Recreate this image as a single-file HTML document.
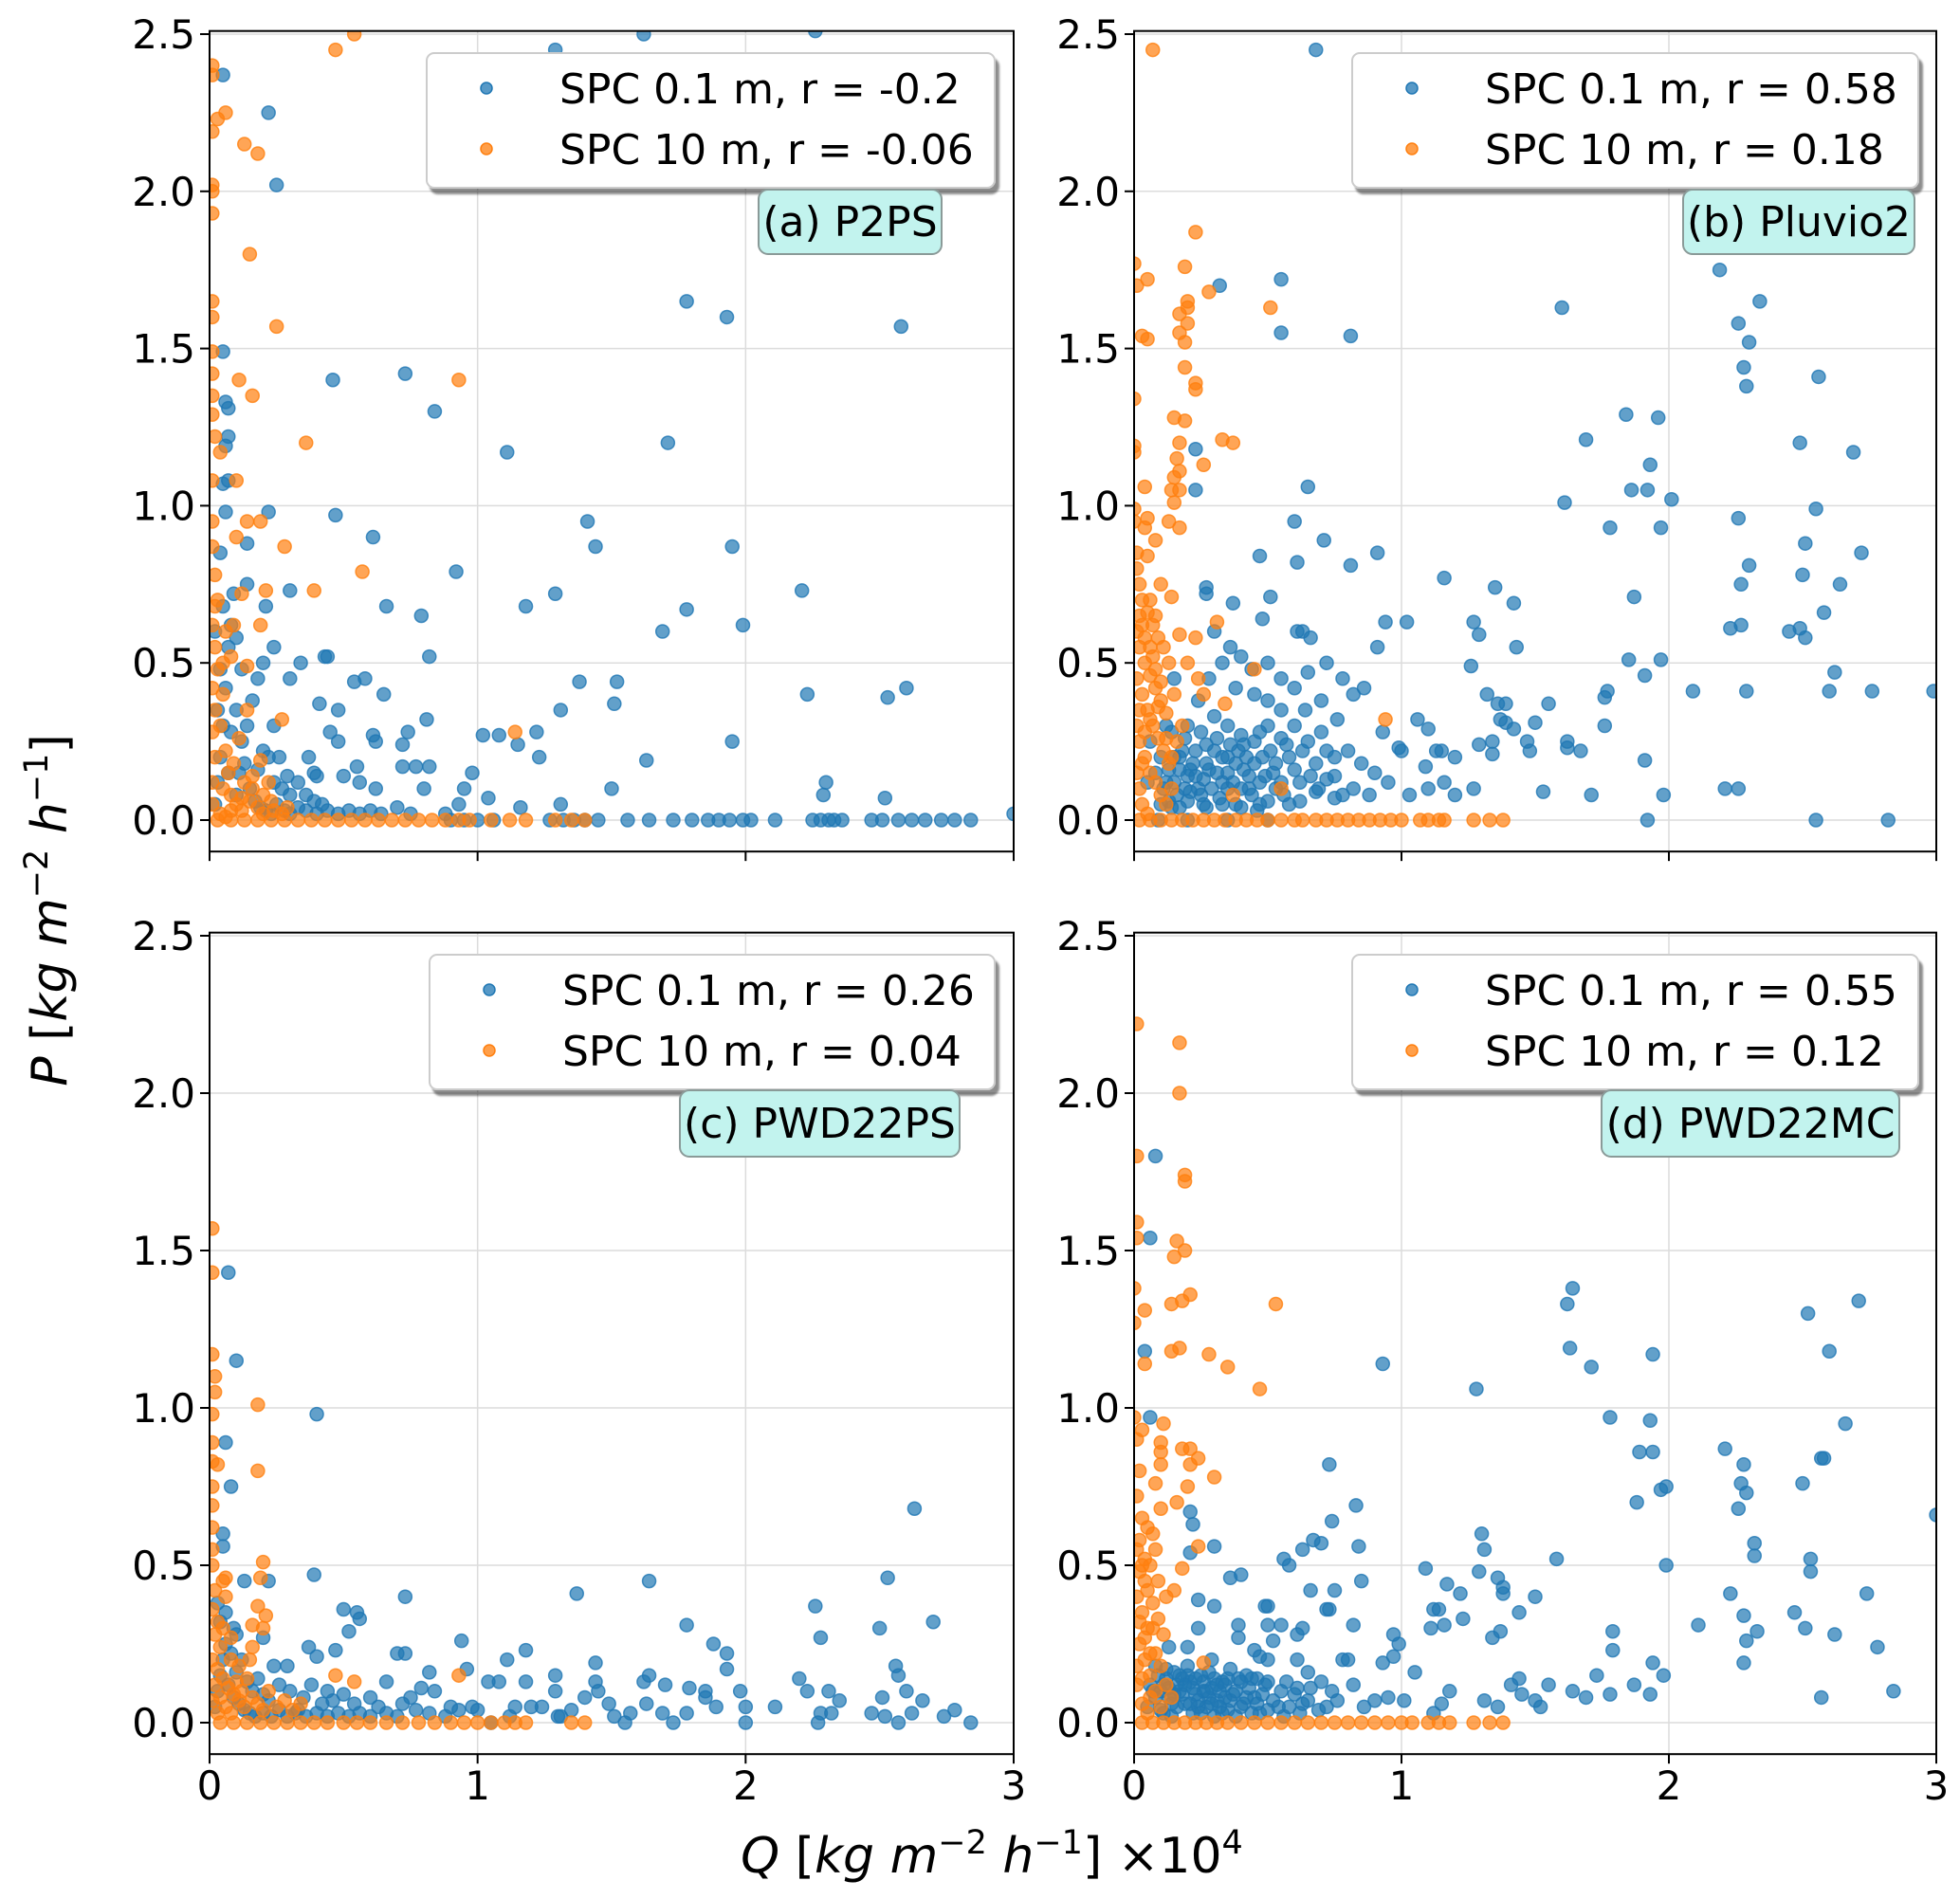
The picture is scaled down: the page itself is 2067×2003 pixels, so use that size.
<!DOCTYPE html>
<html><head><meta charset="utf-8">
<style>
html,body{margin:0;padding:0;background:#fff;}
svg{display:block;font-family:"DejaVu Sans","Liberation Sans",sans-serif;}
</style></head>
<body>
<svg id="fig" width="2067" height="2003" viewBox="0 0 2067 2003" xmlns="http://www.w3.org/2000/svg">
<defs>
<filter id="shadow" x="-5%" y="-5%" width="115%" height="130%"><feOffset dx="4" dy="6" in="SourceAlpha"/><feGaussianBlur stdDeviation="1"/><feComponentTransfer><feFuncA type="linear" slope="0.45"/></feComponentTransfer><feMerge><feMergeNode/><feMergeNode in="SourceGraphic"/></feMerge></filter>
</defs>
<g id="panels"></g>
<text x="0" y="0" transform="translate(70,960) rotate(-90)" text-anchor="middle" font-size="52" fill="#000"><tspan font-style="italic">P</tspan> [<tspan font-style="italic">kg m</tspan><tspan font-size="35" dy="-20">−2</tspan><tspan dy="20" font-style="italic"> h</tspan><tspan font-size="35" dy="-20">−1</tspan><tspan dy="20">]</tspan></text>
<text x="1046" y="1975" text-anchor="middle" font-size="52" fill="#000"><tspan font-style="italic">Q</tspan> [<tspan font-style="italic">kg m</tspan><tspan font-size="35" dy="-20">−2</tspan><tspan dy="20" font-style="italic"> h</tspan><tspan font-size="35" dy="-20">−1</tspan><tspan dy="20">] ×10</tspan><tspan font-size="35" dy="-20">4</tspan></text>
</svg>
<script>
// ---------- data (Q in 1e4 units, P) ----------
const xTicks = [0, 1, 2, 3];
const yTicks = [0.0, 0.5, 1.0, 1.5, 2.0, 2.5];
const yTickLabels = ["0.0", "0.5", "1.0", "1.5", "2.0", "2.5"];
const panelTitles = ["(a) P2PS", "(b) Pluvio2", "(c) PWD22PS", "(d) PWD22MC"];
const legendBlue = ["SPC 0.1 m, r = -0.2", "SPC 0.1 m, r = 0.58", "SPC 0.1 m, r = 0.26", "SPC 0.1 m, r = 0.55"];
const legendOrange = ["SPC 10 m, r = -0.06", "SPC 10 m, r = 0.18", "SPC 10 m, r = 0.04", "SPC 10 m, r = 0.12"];

const aBlue = [[1.29,2.45],[1.62,2.5],[2.26,2.51],[0.05,2.37],[0.22,2.25],[0.25,2.02],[1.78,1.65],[1.93,1.6],[2.58,1.57],[0.05,1.49],[0.46,1.4],[0.73,1.42],[0.84,1.3],[0.06,1.33],[0.07,1.31],[0.07,1.22],[0.06,1.19],[1.11,1.17],[1.71,1.2],[0.05,1.07],[0.07,1.08],[0.22,0.98],[0.47,0.97],[0.06,0.98],[1.41,0.95],[1.44,0.87],[1.95,0.87],[0.61,0.9],[0.14,0.88],[0.04,0.85],[0.92,0.79],[0.30,0.73],[2.21,0.73],[1.29,0.72],[0.14,0.75],[0.21,0.68],[0.66,0.68],[1.18,0.68],[0.79,0.65],[1.78,0.67],[1.69,0.6],[1.99,0.62],[0.24,0.55],[0.34,0.5],[0.43,0.52],[0.44,0.52],[0.82,0.52],[0.30,0.45],[0.54,0.44],[0.58,0.45],[0.65,0.4],[1.38,0.44],[1.52,0.44],[1.51,0.37],[1.31,0.35],[2.23,0.4],[2.53,0.39],[2.60,0.42],[0.41,0.37],[0.48,0.35],[0.81,0.32],[0.45,0.28],[0.48,0.25],[0.61,0.27],[0.62,0.25],[0.74,0.28],[0.72,0.24],[1.02,0.27],[1.08,0.27],[1.15,0.24],[1.22,0.28],[1.23,0.2],[1.63,0.19],[1.95,0.25],[0.37,0.2],[0.39,0.15],[0.40,0.14],[0.50,0.14],[0.55,0.17],[0.56,0.12],[0.62,0.1],[0.72,0.17],[0.77,0.17],[0.82,0.17],[0.80,0.1],[0.98,0.15],[0.95,0.1],[1.04,0.07],[1.50,0.1],[2.30,0.12],[2.29,0.08],[2.52,0.07],[1.31,0.05],[1.16,0.04],[0.93,0.05],[0.70,0.04],[0.75,0.02],[0.88,0.02],
[0.02,0.05],[0.03,0.12],[0.04,0.2],[0.05,0.3],[0.06,0.42],[0.07,0.55],[0.08,0.62],[0.05,0.68],[0.09,0.72],[0.1,0.35],[0.12,0.25],[0.13,0.18],[0.15,0.1],[0.17,0.06],[0.19,0.04],[0.21,0.03],[0.23,0.02],[0.25,0.05],[0.28,0.03],[0.3,0.02],[0.33,0.04],[0.36,0.03],[0.4,0.02],[0.44,0.03],[0.48,0.02],[0.52,0.03],[0.56,0.02],[0.6,0.03],[0.64,0.02],[0.1,0.08],[0.11,0.15],[0.14,0.3],[0.16,0.38],[0.18,0.45],[0.2,0.5],[0.22,0.2],[0.24,0.12],[0.27,0.1],[0.3,0.08],[0.03,0.35],[0.04,0.48],[0.02,0.6],[0.1,0.58],[0.12,0.48],[0.08,0.28],[0.07,0.15],[0.26,0.2],[0.24,0.3],[0.29,0.14],[0.33,0.12],[0.36,0.08],[0.39,0.06],[0.42,0.05],[0.18,0.16],[0.2,0.22],
[1.06,0],[1.36,0],[1.45,0],[1.56,0],[1.64,0],[1.73,0],[1.8,0],[1.86,0],[1.9,0],[1.94,0],[1.99,0],[2.02,0],[2.11,0],[2.25,0],[2.28,0],[2.31,0],[2.33,0],[2.36,0],[2.47,0],[2.51,0],[2.57,0],[2.62,0],[2.67,0],[2.73,0],[2.78,0],[2.84,0],[3.0,0.02],[0.95,0],[1.0,0],[0.9,0],[1.27,0],[1.32,0],[1.4,0]];
const aOrange = [[0.47,2.45],[0.54,2.5],[0.01,2.4],[0.01,2.37],[0.06,2.25],[0.03,2.23],[0.01,2.19],[0.13,2.15],[0.18,2.12],[0.01,2.02],[0.01,2.0],[0.01,1.93],[0.15,1.8],[0.01,1.65],[0.01,1.6],[0.25,1.57],[0.01,1.49],[0.01,1.42],[0.11,1.4],[0.93,1.4],[0.16,1.35],[0.01,1.35],[0.01,1.29],[0.02,1.22],[0.36,1.2],[0.04,1.17],[0.01,1.08],[0.1,1.08],[0.01,0.95],[0.14,0.95],[0.19,0.95],[0.1,0.9],[0.28,0.87],[0.01,0.87],[0.57,0.79],[0.21,0.73],[0.39,0.73],[0.12,0.72],[0.02,0.78],[0.02,0.68],[0.09,0.62],[0.19,0.62],[0.08,0.52],[0.14,0.49],[0.14,0.35],[0.27,0.32],[1.14,0.28],[0.19,0.19],[0.16,0.1],[0.22,0.12],
[0.01,0.05],[0.01,0.12],[0.02,0.2],[0.01,0.28],[0.02,0.35],[0.01,0.42],[0.03,0.48],[0.02,0.55],[0.01,0.62],[0.03,0.7],[0.04,0.3],[0.05,0.4],[0.06,0.22],[0.07,0.15],[0.08,0.08],[0.1,0.05],[0.12,0.03],[0.05,0.1],[0.09,0.18],[0.11,0.26],[0.13,0.12],[0.15,0.06],[0.18,0.04],[0.2,0.02],[0.24,0.03],[0.27,0.02],[0.04,0.02],[0.06,0.01],[0.08,0.03],[0.12,0.07],[0.16,0.14],[0.2,0.08],[0.23,0.06],[0.29,0.04],[0.05,0.5],[0.06,0.6],
[0.03,0],[0.08,0],[0.13,0],[0.18,0],[0.23,0],[0.28,0],[0.33,0],[0.38,0],[0.43,0],[0.48,0],[0.53,0],[0.58,0],[0.63,0],[0.68,0],[0.73,0],[0.78,0],[0.83,0],[0.88,0],[0.93,0],[0.97,0],[1.05,0],[1.12,0],[1.18,0],[1.29,0],[1.35,0],[1.4,0]];

const bBlue = [[0.68,2.45],[2.19,1.75],[2.34,1.65],[1.6,1.63],[2.26,1.58],[2.3,1.52],[2.28,1.44],[2.29,1.38],[2.56,1.41],[0.32,1.7],[0.55,1.72],[0.55,1.55],[0.81,1.54],[1.84,1.29],[1.96,1.28],[1.69,1.21],[2.49,1.2],[2.69,1.17],[1.93,1.13],[1.86,1.05],[1.92,1.05],[2.01,1.02],[1.61,1.01],[2.55,0.99],[0.23,1.18],[0.23,1.05],[0.65,1.06],[2.26,0.96],[1.78,0.93],[1.97,0.93],[0.6,0.95],[0.71,0.89],[2.51,0.88],[2.72,0.85],[0.47,0.84],[0.61,0.82],[0.81,0.81],[0.91,0.85],[2.3,0.81],[2.5,0.78],[2.27,0.75],[2.64,0.75],[1.16,0.77],[1.35,0.74],[1.42,0.69],[1.87,0.71],[2.58,0.66],[0.27,0.74],[0.27,0.72],[0.37,0.69],[0.51,0.71],[0.48,0.64],[0.94,0.63],[1.02,0.63],[1.27,0.63],[1.29,0.59],[1.43,0.55],[2.23,0.61],[2.27,0.62],[2.45,0.6],[2.49,0.61],[2.51,0.58],[0.61,0.6],[0.63,0.6],[0.66,0.58],[0.91,0.55],[1.85,0.51],[1.97,0.51],[1.26,0.49],[2.62,0.47],[1.91,0.46],[2.09,0.41],[2.29,0.41],[2.6,0.41],[2.76,0.41],[2.99,0.41],[1.77,0.41],[1.76,0.39],[1.32,0.4],[1.36,0.37],[1.39,0.37],[1.55,0.37],[1.37,0.32],[1.39,0.31],[1.42,0.29],[1.5,0.31],[1.76,0.3],[1.06,0.32],[1.1,0.29],[0.93,0.28],[0.99,0.23],[1.0,0.22],[1.13,0.22],[1.15,0.22],[1.2,0.2],[1.29,0.24],[1.34,0.25],[1.34,0.21],[1.47,0.25],[1.48,0.22],[1.62,0.25],[1.62,0.23],[1.67,0.22],[1.91,0.19],[1.09,0.17],[1.16,0.12],[1.1,0.1],[1.03,0.08],[1.2,0.08],[1.27,0.1],[1.53,0.09],[1.71,0.08],[1.98,0.08],[2.21,0.1],[2.26,0.1],[1.92,0],[2.55,0],[2.82,0],
[0.3,0.6],[0.33,0.5],[0.36,0.55],[0.4,0.52],[0.44,0.48],[0.5,0.5],[0.55,0.45],[0.6,0.42],[0.65,0.47],[0.72,0.5],[0.78,0.45],[0.82,0.4],[0.86,0.42],[0.45,0.4],[0.5,0.38],[0.38,0.42],[0.28,0.45],[0.24,0.38],[0.2,0.3],[0.18,0.22],[0.25,0.28],[0.3,0.33],[0.35,0.3],[0.4,0.27],[0.45,0.25],[0.5,0.3],[0.55,0.26],[0.6,0.3],[0.65,0.25],[0.7,0.28],[0.75,0.2],[0.8,0.22],[0.85,0.18],[0.9,0.15],[0.95,0.12],[0.72,0.13],[0.68,0.18],[0.62,0.12],[0.58,0.2],[0.52,0.15],[0.48,0.2],[0.43,0.14],[0.38,0.18],[0.33,0.12],[0.28,0.16],[0.24,0.1],[0.2,0.14],[0.16,0.08],[0.12,0.12],[0.1,0.2],[0.14,0.28],[0.1,0.05],[0.14,0.04],[0.2,0.06],[0.26,0.05],[0.32,0.07],[0.38,0.05],[0.44,0.08],[0.5,0.06],[0.56,0.08],[0.62,0.06],[0.68,0.09],[0.75,0.07],[0.82,0.1],[0.88,0.08],[0.3,0.22],[0.36,0.24],[0.42,0.2],[0.47,0.12],[0.53,0.1],[0.58,0.05],[0.22,0.18],[0.26,0.13],[0.17,0.16],[0.12,0.3],[0.15,0.45],[0.06,0.25],[0.05,0.12],[0.08,0.15],[0.35,0.15],[0.4,0.1],[0.64,0.35],[0.7,0.38],[0.76,0.32],[0.55,0.35],[0.09,0.0],[0.2,0.0],[0.35,0.0],[0.5,0.0]];
const bBlueExtra = [[0.11,0.1],[0.13,0.16],[0.15,0.12],[0.17,0.2],[0.19,0.1],[0.21,0.16],[0.23,0.22],[0.25,0.08],[0.27,0.18],[0.29,0.1],[0.31,0.15],[0.33,0.2],[0.35,0.1],[0.37,0.12],[0.39,0.22],[0.41,0.16],[0.43,0.1],[0.45,0.18],[0.47,0.05],[0.49,0.14],[0.51,0.22],[0.53,0.18],[0.55,0.12],[0.57,0.24],[0.6,0.16],[0.63,0.22],[0.66,0.14],[0.69,0.1],[0.72,0.22],[0.75,0.14],[0.78,0.08],[0.15,0.2],[0.19,0.26],[0.23,0.14],[0.27,0.24],[0.31,0.26],[0.35,0.2],[0.41,0.24],[0.47,0.28],[0.13,0.06],[0.17,0.04],[0.21,0.09],[0.27,0.04],[0.33,0.05],[0.4,0.04],[0.46,0.03]];
const bOrange = [[0.07,2.45],[0.23,1.87],[0.0,1.77],[0.01,1.7],[0.05,1.72],[0.19,1.76],[0.2,1.65],[0.2,1.63],[0.28,1.68],[0.51,1.63],[0.17,1.61],[0.2,1.58],[0.03,1.54],[0.05,1.53],[0.17,1.55],[0.19,1.52],[0.19,1.44],[0.23,1.39],[0.23,1.37],[0.0,1.34],[0.15,1.28],[0.19,1.27],[0.33,1.21],[0.37,1.2],[0.17,1.2],[0.16,1.15],[0.17,1.11],[0.26,1.13],[0.0,1.19],[0.0,1.17],[0.15,1.09],[0.14,1.05],[0.17,1.05],[0.15,1.01],[0.04,1.06],[0.0,0.99],[0.0,0.95],[0.05,0.96],[0.13,0.95],[0.17,0.93],[0.04,0.93],[0.08,0.89],[0.01,0.85],[0.05,0.84],[0.45,0.48],[0.34,0.37],[0.94,0.32],[0.55,0.1],[0.37,0.08],[0.31,0.63],[0.23,0.58],[0.17,0.59],[0.14,0.71],[0.1,0.75],[0.2,0.5],[0.24,0.45],[0.26,0.4],
[0.01,0.8],[0.02,0.75],[0.03,0.7],[0.05,0.66],[0.07,0.62],[0.09,0.58],[0.01,0.6],[0.02,0.55],[0.04,0.5],[0.06,0.46],[0.08,0.42],[0.1,0.38],[0.12,0.34],[0.01,0.45],[0.03,0.4],[0.05,0.35],[0.07,0.3],[0.09,0.26],[0.11,0.22],[0.13,0.18],[0.01,0.3],[0.02,0.25],[0.04,0.2],[0.06,0.15],[0.08,0.12],[0.1,0.08],[0.12,0.05],[0.01,0.15],[0.02,0.1],[0.03,0.05],[0.05,0.02],[0.14,0.1],[0.16,0.25],[0.18,0.3],[0.15,0.4],[0.13,0.5],[0.11,0.55],[0.06,0.7],[0.08,0.65],[0.03,0.62],[0.02,0.35],[0.04,0.28],[0.07,0.52],[0.02,0.65],[0.04,0.58],[0.06,0.55],[0.08,0.48],[0.1,0.44],[0.03,0.18],[0.06,0.32],[0.09,0.36],[0.12,0.26],[0.14,0.2],
[0.02,0],[0.06,0],[0.1,0],[0.14,0],[0.18,0],[0.22,0],[0.26,0],[0.3,0],[0.34,0],[0.38,0],[0.42,0],[0.46,0],[0.5,0],[0.55,0],[0.6,0],[0.63,0],[0.68,0],[0.72,0],[0.76,0],[0.8,0],[0.84,0],[0.88,0],[0.92,0],[0.96,0],[1.0,0],[1.07,0],[1.1,0],[1.14,0],[1.16,0],[1.27,0],[1.33,0],[1.38,0]];

const cBlue = [[0.07,1.43],[0.1,1.15],[0.4,0.98],[0.06,0.89],[0.08,0.75],[0.05,0.6],[0.05,0.56],[2.63,0.68],[0.39,0.47],[0.13,0.45],[0.22,0.45],[0.73,0.4],[1.37,0.41],[1.64,0.45],[2.53,0.46],[2.26,0.37],[2.7,0.32],[1.78,0.31],[2.5,0.3],[2.28,0.27],[0.5,0.36],[0.55,0.35],[0.56,0.33],[0.52,0.29],[0.2,0.27],[0.09,0.3],[0.94,0.26],[1.88,0.25],[1.93,0.22],[1.93,0.17],[2.56,0.18],[2.57,0.15],[1.18,0.23],[1.11,0.2],[1.44,0.19],[0.37,0.24],[0.4,0.21],[0.47,0.23],[0.7,0.22],[0.73,0.22],[0.96,0.17],[0.66,0.13],[0.82,0.16],[1.04,0.13],[1.08,0.13],[1.18,0.13],[1.29,0.15],[1.29,0.1],[1.44,0.13],[1.45,0.1],[1.62,0.13],[1.64,0.15],[1.7,0.12],[1.79,0.11],[1.85,0.1],[1.85,0.08],[1.98,0.1],[2.2,0.14],[2.23,0.1],[2.31,0.1],[2.35,0.07],[2.51,0.08],[2.6,0.1],[2.66,0.07],[2.78,0.04],[2.84,0.0],[2.74,0.02],[2.62,0.03],[2.57,0.0],[2.52,0.02],[2.47,0.03],[2.27,0.0],[2.28,0.03],[2.32,0.03],[2.11,0.05],[2.0,0.05],[2.0,0.0],[1.89,0.05],[1.78,0.03],[1.73,0.0],[1.69,0.03],[1.63,0.06],[1.57,0.03],[1.55,0.0],[1.51,0.02],[1.49,0.06],[1.4,0.08],[1.35,0.04],[1.3,0.02],[1.31,0.02],[1.24,0.05],[1.2,0.05],[1.14,0.05],[1.12,0.02],[1.05,0.0],[1.0,0.04],[0.98,0.05],[0.9,0.05],[0.84,0.1],[0.79,0.11],[0.75,0.08],[0.72,0.06],[0.63,0.05],[0.6,0.08],[0.54,0.06],[0.46,0.07],[0.42,0.06],[0.33,0.04],[0.29,0.18],[0.24,0.18],
[0.02,0.05],[0.03,0.1],[0.04,0.15],[0.05,0.2],[0.06,0.25],[0.04,0.32],[0.03,0.38],[0.07,0.12],[0.09,0.08],[0.11,0.06],[0.13,0.04],[0.15,0.03],[0.17,0.02],[0.2,0.03],[0.23,0.02],[0.26,0.04],[0.29,0.02],[0.32,0.03],[0.36,0.02],[0.4,0.03],[0.44,0.02],[0.48,0.03],[0.52,0.02],[0.56,0.03],[0.6,0.02],[0.66,0.03],[0.7,0.02],[0.77,0.04],[0.82,0.03],[0.88,0.02],[0.93,0.04],[0.1,0.16],[0.12,0.2],[0.14,0.13],[0.16,0.1],[0.18,0.14],[0.2,0.09],[0.22,0.07],[0.08,0.22],[0.1,0.28],[0.06,0.35],[0.26,0.12],[0.3,0.1],[0.35,0.08],[0.38,0.12],[0.44,0.1],[0.5,0.09]];
const cOrange = [[0.01,1.57],[0.01,1.43],[0.01,1.17],[0.02,1.1],[0.02,1.05],[0.01,0.98],[0.18,1.01],[0.01,0.89],[0.01,0.83],[0.03,0.82],[0.18,0.8],[0.01,0.75],[0.01,0.69],[0.01,0.62],[0.01,0.55],[0.2,0.51],[0.06,0.46],[0.05,0.45],[0.19,0.46],[0.06,0.4],[0.18,0.37],[0.21,0.34],[0.16,0.31],[0.2,0.3],[0.16,0.24],[0.08,0.27],[0.47,0.15],[0.54,0.13],[0.93,0.15],[1.35,0],[1.4,0],
[0.01,0.5],[0.02,0.42],[0.01,0.36],[0.03,0.32],[0.02,0.28],[0.04,0.24],[0.01,0.2],[0.03,0.17],[0.05,0.14],[0.07,0.11],[0.09,0.09],[0.11,0.07],[0.13,0.05],[0.02,0.12],[0.04,0.08],[0.06,0.05],[0.08,0.03],[0.1,0.13],[0.12,0.1],[0.14,0.14],[0.16,0.08],[0.18,0.06],[0.2,0.04],[0.22,0.1],[0.25,0.05],[0.28,0.07],[0.31,0.04],[0.34,0.06],[0.15,0.2],[0.11,0.18],[0.08,0.2],[0.05,0.3],[0.03,0.03],[0.01,0.07],
[0.04,0],[0.09,0],[0.14,0],[0.19,0],[0.24,0],[0.29,0],[0.34,0],[0.39,0],[0.44,0],[0.5,0],[0.55,0],[0.6,0],[0.66,0],[0.72,0],[0.78,0],[0.84,0],[0.9,0],[0.95,0],[1.0,0],[1.05,0],[1.1,0],[1.14,0],[1.18,0]];

const dBlue = [[0.08,1.8],[0.06,1.54],[0.04,1.18],[0.06,0.97],[0.93,1.14],[1.28,1.06],[1.64,1.38],[1.62,1.33],[1.63,1.19],[1.71,1.13],[1.94,1.17],[2.52,1.3],[2.71,1.34],[2.6,1.18],[1.78,0.97],[1.93,0.96],[1.89,0.86],[1.94,0.86],[2.66,0.95],[2.21,0.87],[2.28,0.82],[2.27,0.76],[2.29,0.73],[2.26,0.68],[2.5,0.76],[2.57,0.84],[2.58,0.84],[1.97,0.74],[1.99,0.75],[1.88,0.7],[3.0,0.66],[0.73,0.82],[0.74,0.64],[0.83,0.69],[0.21,0.67],[0.22,0.63],[0.84,0.56],[0.3,0.56],[0.21,0.54],[1.3,0.6],[1.31,0.55],[1.58,0.52],[2.32,0.57],[2.32,0.53],[2.53,0.52],[2.53,0.48],[1.99,0.5],[1.09,0.49],[0.56,0.52],[0.58,0.5],[0.63,0.55],[0.67,0.58],[0.7,0.57],[1.29,0.48],[1.36,0.46],[1.38,0.43],[1.38,0.41],[1.5,0.4],[1.44,0.35],[1.17,0.44],[1.22,0.41],[1.23,0.33],[1.12,0.36],[1.14,0.36],[1.11,0.3],[1.16,0.31],[1.34,0.27],[1.37,0.29],[2.74,0.41],[2.23,0.41],[2.28,0.34],[2.47,0.35],[2.51,0.3],[2.62,0.28],[2.33,0.29],[2.29,0.26],[2.11,0.31],[1.79,0.29],[1.79,0.23],[2.78,0.24],[2.28,0.19],[1.94,0.19],[1.98,0.15],[1.73,0.15],[1.64,0.1],[1.55,0.12],[1.69,0.08],[1.78,0.09],[1.87,0.12],[1.93,0.09],[2.57,0.08],[2.84,0.1],[1.5,0.07],[1.52,0.05],[1.45,0.09],[1.41,0.12],[1.44,0.14],[1.31,0.07],[1.36,0.05],[1.18,0.1],[1.15,0.06],[1.12,0.03],[1.05,0.16],[1.01,0.07],[0.97,0.28],[0.99,0.25],[0.97,0.21],[0.93,0.19],[0.85,0.45],[0.82,0.31],[0.75,0.42],[0.73,0.36],[0.72,0.36],[0.66,0.42],[0.63,0.3],[0.61,0.28],[0.55,0.31],[0.5,0.31],[0.5,0.37],[0.49,0.37],[0.39,0.31],[0.39,0.27],[0.4,0.47],[0.36,0.46],[0.3,0.37],[0.24,0.39],[0.24,0.3],[0.29,0.2],[0.2,0.24],[0.13,0.24],[0.78,0.2],[0.8,0.2],[0.82,0.12],[0.74,0.1],[0.7,0.13],[0.65,0.16],[0.61,0.2],[0.52,0.26],[0.5,0.2],[0.45,0.23],[0.47,0.21],
[0.05,0.05],[0.07,0.1],[0.09,0.15],[0.11,0.12],[0.13,0.08],[0.15,0.16],[0.17,0.1],[0.19,0.06],[0.21,0.13],[0.23,0.09],[0.25,0.15],[0.27,0.05],[0.29,0.11],[0.31,0.07],[0.33,0.13],[0.35,0.04],[0.37,0.09],[0.39,0.14],[0.41,0.06],[0.43,0.11],[0.45,0.08],[0.47,0.03],[0.49,0.12],[0.52,0.07],[0.55,0.1],[0.58,0.05],[0.6,0.09],[0.63,0.06],[0.66,0.11],[0.69,0.04],[0.1,0.04],[0.14,0.02],[0.18,0.14],[0.22,0.03],[0.26,0.1],[0.3,0.02],[0.34,0.08],[0.38,0.02],[0.42,0.15],[0.46,0.14],[0.08,0.18],[0.12,0.17],[0.2,0.18],[0.28,0.16],[0.36,0.17],[0.16,0.05],[0.24,0.07],[0.32,0.1],[0.4,0.05],[0.44,0.03],[0.5,0.04],[0.56,0.02],[0.62,0.03],[0.72,0.05],[0.76,0.07],[0.86,0.05],[0.9,0.07],[0.95,0.08]];
const dBlueExtra = [[0.06,0.12],[0.08,0.08],[0.1,0.1],[0.12,0.14],[0.14,0.06],[0.16,0.12],[0.18,0.09],[0.2,0.15],[0.22,0.11],[0.24,0.05],[0.26,0.13],[0.28,0.08],[0.3,0.14],[0.32,0.05],[0.34,0.12],[0.36,0.07],[0.38,0.1],[0.4,0.13],[0.42,0.08],[0.44,0.14],[0.46,0.06],[0.48,0.09],[0.5,0.13],[0.54,0.05],[0.57,0.13],[0.61,0.11],[0.65,0.07],[0.11,0.03],[0.15,0.09],[0.19,0.12],[0.23,0.14],[0.27,0.1],[0.31,0.12],[0.35,0.14],[0.13,0.11],[0.17,0.15],[0.21,0.06],[0.25,0.03],[0.29,0.06],[0.33,0.03]];
const dOrange = [[0.01,2.22],[0.17,2.16],[0.17,2.0],[0.01,1.8],[0.19,1.74],[0.19,1.72],[0.01,1.59],[0.01,1.54],[0.16,1.53],[0.15,1.48],[0.19,1.5],[0.0,1.38],[0.21,1.36],[0.18,1.34],[0.14,1.33],[0.53,1.33],[0.04,1.31],[0.0,1.27],[0.14,1.18],[0.17,1.19],[0.28,1.17],[0.35,1.13],[0.04,1.14],[0.47,1.06],[0.0,0.97],[0.03,0.93],[0.11,0.95],[0.1,0.89],[0.1,0.86],[0.18,0.87],[0.21,0.87],[0.24,0.84],[0.21,0.82],[0.1,0.82],[0.2,0.75],[0.16,0.7],[0.3,0.78],[0.1,0.68],[0.08,0.76],[0.24,0.56],[0.18,0.49],[0.15,0.42],[0.26,0.19],[0.07,0.6],[0.04,0.52],
[0.01,0.9],[0.02,0.8],[0.01,0.72],[0.03,0.65],[0.02,0.58],[0.04,0.45],[0.01,0.4],[0.03,0.35],[0.05,0.3],[0.02,0.25],[0.04,0.2],[0.06,0.15],[0.08,0.1],[0.01,0.12],[0.03,0.06],[0.05,0.03],[0.07,0.38],[0.09,0.33],[0.11,0.28],[0.08,0.22],[0.1,0.18],[0.12,0.12],[0.06,0.5],[0.09,0.45],[0.12,0.4],[0.06,0.08],[0.1,0.05],[0.14,0.08],[0.02,0.48],[0.05,0.62],[0.01,0.55],[0.03,0.5],[0.05,0.42],[0.07,0.3],[0.02,0.32],[0.04,0.27],[0.06,0.22],[0.01,0.18],[0.03,0.14],[0.08,0.55],
[0.03,0],[0.07,0],[0.11,0],[0.15,0],[0.19,0],[0.23,0],[0.27,0],[0.31,0],[0.35,0],[0.4,0],[0.45,0],[0.5,0],[0.55,0],[0.6,0],[0.65,0],[0.7,0],[0.75,0],[0.8,0],[0.85,0],[0.9,0],[0.95,0],[1.0,0],[1.04,0],[1.1,0],[1.14,0],[1.18,0],[1.27,0],[1.33,0],[1.38,0]];

const blueSeries = [aBlue, bBlue.concat(bBlueExtra), cBlue, dBlue.concat(dBlueExtra)];
const orangeSeries = [aOrange, bOrange, cOrange, dOrange];

// ---------- layout ----------
const NS = "http://www.w3.org/2000/svg";
const panelsG = document.getElementById("panels");
const layout = [
  {x0:221, x1:1069, yZero:865, k:331.6, row:0},
  {x0:1196, x1:2042, yZero:865, k:331.6, row:0},
  {x0:221, x1:1069, yZero:1817, k:332, row:1},
  {x0:1196, x1:2042, yZero:1817, k:332, row:1}
];
const legendPos = [
  {x:450, y:56, w:599, h:142},{x:1426, y:56, w:597, h:142},
  {x:453, y:1007, w:596, h:142},{x:1426, y:1007, w:597, h:142}
];
const titlePos = [
  {x:800, y:200, w:193, h:68},{x:1775, y:200, w:244, h:68},
  {x:717, y:1150, w:295, h:70},{x:1689, y:1150, w:314, h:70}
];
const XMIN=0, XMAX=3, YMIN=-0.1, YMAX=2.51;

function el(tag, attrs, parent){
  const e = document.createElementNS(NS, tag);
  for (const k in attrs) e.setAttribute(k, attrs[k]);
  parent.appendChild(e);
  return e;
}

layout.forEach((L, i) => {
  const sx = v => L.x0 + (v - XMIN) / (XMAX - XMIN) * (L.x1 - L.x0);
  const sy = v => L.yZero - v * L.k;
  const top = sy(YMAX), bot = sy(YMIN);
  const g = el("g", {}, panelsG);
  
  

  const clip = el("clipPath", {id:"clip"+i}, g);
  el("rect", {x:L.x0, y:top, width:L.x1-L.x0, height:bot-top}, clip);

  const grid = el("g", {stroke:"#dcdcdc", "stroke-width":1.5}, g);
  
  
  xTicks.forEach(t => el("line", {x1:sx(t), x2:sx(t), y1:top, y2:bot}, grid));
  yTicks.forEach(t => el("line", {x1:L.x0, x2:L.x1, y1:sy(t), y2:sy(t)}, grid));

  const pts = el("g", {"clip-path":"url(#clip"+i+")"}, g);
  
  
  blueSeries[i].forEach(p => {
    const c = el("circle", {cx:sx(p[0]), cy:sy(p[1]), r:7, fill:"#1f77b4", "fill-opacity":0.7, stroke:"#1f77b4", "stroke-opacity":0.8, "stroke-width":1.5}, pts);
    
    
  });
  orangeSeries[i].forEach(p => {
    const c = el("circle", {cx:sx(p[0]), cy:sy(p[1]), r:7, fill:"#ff7f0e", "fill-opacity":0.7, stroke:"#ff7f0e", "stroke-opacity":0.8, "stroke-width":1.5}, pts);
    
    
  });

  const fr = el("rect", {x:L.x0, y:top, width:L.x1-L.x0, height:bot-top, fill:"none", stroke:"#000", "stroke-width":2}, g);
  
  

  const tk = el("g", {stroke:"#000", "stroke-width":2}, g);
  
  
  xTicks.forEach(t => el("line", {x1:sx(t), x2:sx(t), y1:bot, y2:bot+10}, tk));
  yTicks.forEach(t => el("line", {x1:L.x0-10, x2:L.x0, y1:sy(t), y2:sy(t)}, tk));

  yTicks.forEach((t, j) => {
    const tx = el("text", {x:L.x0-15, y:sy(t)+15, "text-anchor":"end", "font-size":42, fill:"#000"}, g);
    tx.textContent = yTickLabels[j];
    
    
  });
  if (L.row === 1) {
    xTicks.forEach(t => {
      const tx = el("text", {x:sx(t), y:bot+48, "text-anchor":"middle", "font-size":42, fill:"#000"}, g);
      tx.textContent = String(t);
      
      
    });
  }

  const lp = legendPos[i];
  const lg = el("g", {}, g);
  
  
  el("rect", {x:lp.x, y:lp.y, width:lp.w, height:lp.h, rx:8, fill:"#fff", stroke:"#cccccc", "stroke-width":2, filter:"url(#shadow)"}, lg);
  [[legendBlue[i], "#1f77b4", 37],[legendOrange[i], "#ff7f0e", 101]].forEach(e => {
    const row = el("g", {}, lg);
    
    
    el("circle", {cx:lp.x+63, cy:lp.y+e[2], r:6, fill:e[1], "fill-opacity":0.75, stroke:e[1], "stroke-width":1.5}, row);
    const t = el("text", {x:lp.x+140, y:lp.y+e[2]+16, "font-size":44, fill:"#000"}, row);
    t.textContent = e[0];
  });

  const tp = titlePos[i];
  const tg = el("g", {}, g);
  
  
  el("rect", {x:tp.x, y:tp.y, width:tp.w, height:tp.h, rx:10, fill:"#c2f3ee", stroke:"#8a9a98", "stroke-width":2}, tg);
  const tt = el("text", {x:tp.x+tp.w/2, y:tp.y+tp.h/2+15, "text-anchor":"middle", "font-size":44, fill:"#000"}, tg);
  tt.textContent = panelTitles[i];
});
</script>
</body></html>
